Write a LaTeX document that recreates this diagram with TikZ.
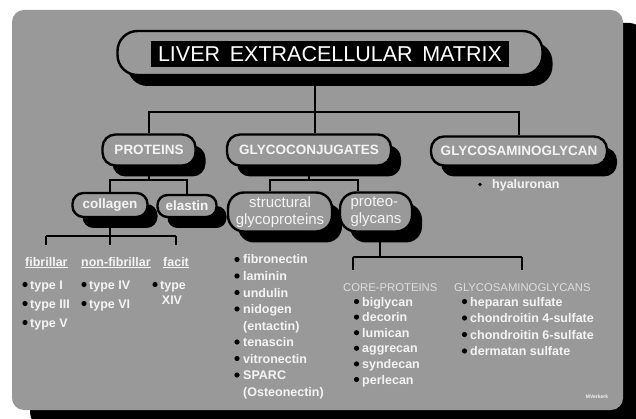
\documentclass[tikz,border=0pt]{standalone}
\usepackage{fontspec}
\setmainfont{Liberation Sans}
\usetikzlibrary{calc,positioning,shadows,backgrounds}
\definecolor{panelc}{HTML}{999999}
\definecolor{inkc}{HTML}{F4F4F4}
\definecolor{softc}{HTML}{DEDEDE}
\tikzset{
  link/.style={line width=2pt,black},
  pill/.style={draw=black,line width=2.4pt,fill=panelc,rounded corners=#1,inner sep=0pt,text=inkc,
    drop shadow={shadow xshift=10pt,shadow yshift=-11pt,fill=black,opacity=1}},
  pill/.default=13pt,
  hd/.style={font=\fontsize{13.5}{16}\selectfont\bfseries},
  sub/.style={font=\fontsize{15}{17}\selectfont},
  item/.style={inner sep=0pt,text=inkc,text height=9pt,text depth=3pt,anchor=base west,
    font=\fontsize{12.5}{15}\selectfont\bfseries},
  cat/.style={item,text=softc,font=\fontsize{11.3}{14}\selectfont},
  bul/.style={fill=black}
}

\begin{document}
\begin{tikzpicture}[x=1pt,y=-1pt]
\useasboundingbox (0,0) rectangle (636,419);
% boxes
\node[pill=20pt,minimum width=425pt,minimum height=44pt] (title) at (330,53) {};
\node[fill=black,text=white,minimum width=358pt,minimum height=26pt,inner sep=0pt,
  font=\fontsize{21.5}{22}\selectfont] (titlebar) at (330,54) {LIVER\hspace{.45em}EXTRACELLULAR\hspace{.45em}MATRIX};
\node[pill,hd,minimum width=93pt,minimum height=31pt] (proteins) at (149,150) {PROTEINS};
\node[pill,hd,minimum width=164pt,minimum height=31pt] (glyco) at (309,150) {GLYCOCONJUGATES};
\node[pill,hd,minimum width=176pt,minimum height=29pt] (gag) at (519,151) {GLYCOSAMINOGLYCAN};
\node[pill=11pt,hd,minimum width=75pt,minimum height=24pt] (collagen) at (110,205) {collagen};
\node[pill=10pt,hd,minimum width=59pt,minimum height=22pt] (elastin) at (187,206) {elastin};
\node[pill=16pt,sub,align=center,minimum width=104pt,minimum height=39pt] (struct) at (280,212) {structural\\glycoproteins};
\node[pill=16pt,sub,align=left,minimum width=72pt,minimum height=39pt] (proteo) at (376,212) {proteo-\\glycans};
% collagen types
\node[item] (fibr) at (25,266) {\underline{fibrillar}};
\node[item] (nonfib) at (81,266) {\underline{non-fibrillar}};
\node[item] (facit) at (163,266) {\underline{facit}};
\foreach \t [count=\i] in {type I,type III,type V}{
  \node[item] (fib\i) at (30,270+19*\i) {\t};
  \fill[bul] ([xshift=-5pt,yshift=1.5pt]fib\i.west) circle (2.6pt);
}
\foreach \t [count=\i] in {type IV,type VI}{
  \node[item] (nfib\i) at (89,270+19*\i) {\t};
  \fill[bul] ([xshift=-5pt,yshift=1.5pt]nfib\i.west) circle (2.6pt);
}
\node[item] (fac1) at (160,289) {type};
\fill[bul] ([xshift=-5pt,yshift=1.5pt]fac1.west) circle (2.6pt);
\node[item,anchor=base] (fac2) at (172,304) {XIV};
% structural glycoproteins
\foreach \t/\b [count=\i] in {fibronectin/1,laminin/1,undulin/1,nidogen/1,{(entactin)}/0,tenascin/1,vitronectin/1,SPARC/1,{(Osteonectin)}/0}{
  \node[item] (sg\i) at (243,247.5+16.5*\i) {\t};
  \ifnum\b=1 \fill[bul] ([xshift=-6pt,yshift=1.5pt]sg\i.west) circle (2.6pt);\fi
}
% glycosaminoglycan
\node[item] (hya) at (492,189) {hyaluronan};
\fill[bul] ([xshift=-12pt,yshift=1.5pt]hya.west) circle (1.8pt);
% proteoglycans
\node[cat] (corel) at (343,291) {CORE-PROTEINS};
\node[cat] (gagl) at (454,291) {GLYCOSAMINOGLYCANS};
\foreach \t [count=\i] in {biglycan,decorin,lumican,aggrecan,syndecan,perlecan}{
  \node[item] (core\i) at (362,290.4+15.6*\i) {\t};
  \fill[bul] ([xshift=-5.5pt,yshift=1.5pt]core\i.west) circle (2.6pt);
}
\foreach \t [count=\i] in {heparan sulfate,chondroitin 4-sulfate,chondroitin 6-sulfate,dermatan sulfate}{
  \node[item] (gs\i) at (470,289.5+16.5*\i) {\t};
  \fill[bul] ([xshift=-5.5pt,yshift=1.5pt]gs\i.west) circle (2.6pt);
}
\node[text=inkc,inner sep=0pt,font=\fontsize{5}{5}\selectfont\bfseries] (sign) at (597,397) {MVerkerk};

\begin{scope}[on background layer]
% panel and its shadow
\fill[black,rounded corners=12pt] (30,23) rectangle (642,425);
\fill[panelc,rounded corners=12pt] (12,10) rectangle (623,410);
% main trunk
\coordinate (trunk) at (315,112);
\draw[link] (title.south -| trunk) -- (glyco.north -| trunk);
\draw[link] (proteins.north) |- (trunk) -| (gag.north);
% proteins
\coordinate (pbus) at (149,180);
\draw[link] (proteins.south) -- (pbus);
\draw[link] (collagen.north) |- (pbus) -| (elastin.north);
% glycoconjugates
\coordinate (gbus) at (309,180);
\draw[link] (glyco.south) -- (gbus);
\draw[link] ([xshift=-10pt]struct.north) |- (gbus) -| ([xshift=-18pt]proteo.north);
% collagen
\coordinate (cbus) at (110,236);
\draw[link] (collagen.south) -- (cbus);
\draw[link,shorten >=12pt] (cbus) -- (cbus |- nonfib.north);
\draw[link] (fibr.north |- cbus) -- (facit.north |- cbus);
\draw[link,shorten >=12pt] (fibr.north |- cbus) -- (fibr.north);
\draw[link,shorten >=12pt] (facit.north |- cbus) -- (facit.north);
% proteoglycans
\coordinate (qbus) at (380,257);
\coordinate (qleft) at ($(core1.west |- qbus)+(-9,0)$);
\draw[link] (proteo.south -| qbus) -- (qbus);
\draw[link] (qleft) -- (gagl.north |- qbus);
\draw[link,shorten >=12pt] (qleft) -- (qleft |- corel.north);
\draw[link,shorten >=12pt] (gagl.north |- qbus) -- (gagl.north);
\end{scope}
\end{tikzpicture}
\end{document}
